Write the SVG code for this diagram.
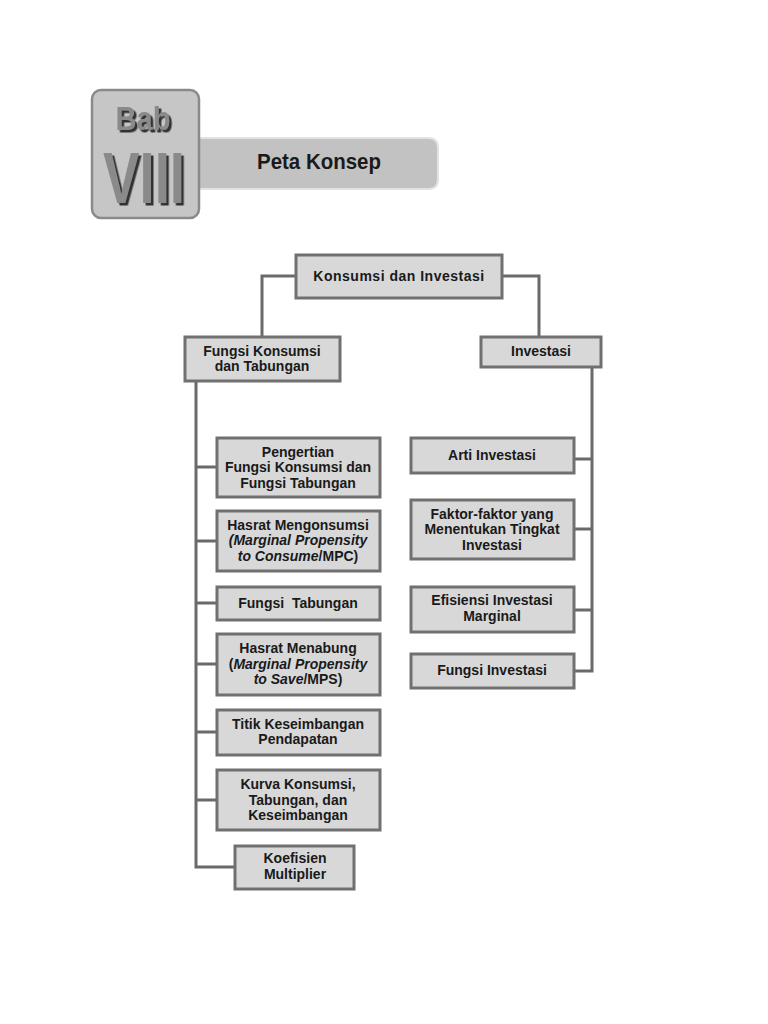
<svg xmlns="http://www.w3.org/2000/svg" width="768" height="1024" viewBox="0 0 768 1024">
<style>
.box{fill:#d8d8d8;stroke:#707070;stroke-width:3}
.t{font-family:"Liberation Sans",Arial,sans-serif;font-weight:bold;font-size:14px;fill:#1a1a1a;text-anchor:middle}
.c{fill:none;stroke:#6a6a6a;stroke-width:3}
.bab{font-family:"Liberation Sans",Arial,sans-serif;font-weight:bold;fill:#8a8a8a;text-anchor:middle}
</style>
<defs>
<filter id="sh" x="-20%" y="-20%" width="140%" height="140%"><feDropShadow dx="2.5" dy="2.5" stdDeviation="0" flood-color="#333333"/></filter>
</defs>
<rect width="768" height="1024" fill="#ffffff"/>
<g id="header">
<path d="M190,138 H428 Q438,138 438,148 V179 Q438,189 428,189 H190 Z" fill="#c2c2c2" stroke="#e2e2e2" stroke-width="2"/>
<rect x="92" y="90" width="107" height="128" rx="9" fill="#c6c6c6" stroke="#8a8a8a" stroke-width="2.5"/>
<text x="257" y="169" font-family="Liberation Sans,Arial,sans-serif" font-weight="bold" font-size="22" fill="#1a1a1a" textLength="124" lengthAdjust="spacingAndGlyphs">Peta Konsep</text>
<text class="bab" x="143" y="130" font-size="34" textLength="55" lengthAdjust="spacingAndGlyphs" filter="url(#sh)">Bab</text>
<text class="bab" x="144" y="203" font-size="72" textLength="82" lengthAdjust="spacingAndGlyphs" filter="url(#sh)">VIII</text>
</g>
<g id="connectors">
<path class="c" d="M296,276 H262 V337"/>
<path class="c" d="M502,276 H539 V337"/>
<path class="c" d="M196,381 V867 H235"/>
<path class="c" d="M196,467 H217 M196,541 H217 M196,603 H217 M196,664 H217 M196,732 H217 M196,800 H217"/>
<path class="c" d="M592,367 V671 H574"/>
<path class="c" d="M592,459 H574 M592,529 H574 M592,610 H574"/>
</g>
<g id="n-root"><rect class="box" x="296" y="255" width="206" height="43"/><text class="t" x="399" y="281" font-size="15" letter-spacing="0.5">Konsumsi dan Investasi</text></g>
<g id="n-fkt"><rect class="box" x="185" y="337" width="155" height="44"/><text class="t" x="262" y="356">Fungsi Konsumsi</text><text class="t" x="262" y="371">dan Tabungan</text></g>
<g id="n-inv"><rect class="box" x="481" y="337" width="120" height="30"/><text class="t" x="541" y="356">Investasi</text></g>
<g id="n-pengertian"><rect class="box" x="217" y="438" width="163" height="59"/><text class="t" x="298" y="457">Pengertian</text><text class="t" x="298" y="472">Fungsi Konsumsi dan</text><text class="t" x="298" y="488">Fungsi Tabungan</text></g>
<g id="n-mpc"><rect class="box" x="217" y="511" width="163" height="60"/><text class="t" x="298" y="530">Hasrat Mengonsumsi</text><text class="t" x="298" y="545"><tspan font-style="italic">(Marginal Propensity</tspan></text><text class="t" x="298" y="561"><tspan font-style="italic">to Consume</tspan>/MPC)</text></g>
<g id="n-ftab"><rect class="box" x="217" y="587" width="163" height="33"/><text class="t" x="298" y="608" xml:space="preserve">Fungsi  Tabungan</text></g>
<g id="n-mps"><rect class="box" x="217" y="634" width="163" height="61"/><text class="t" x="298" y="653">Hasrat Menabung</text><text class="t" x="298" y="669">(<tspan font-style="italic">Marginal Propensity</tspan></text><text class="t" x="298" y="684"><tspan font-style="italic">to Save</tspan>/MPS)</text></g>
<g id="n-titik"><rect class="box" x="217" y="710" width="163" height="45"/><text class="t" x="298" y="729">Titik Keseimbangan</text><text class="t" x="298" y="744">Pendapatan</text></g>
<g id="n-kurva"><rect class="box" x="217" y="770" width="163" height="60"/><text class="t" x="298" y="789">Kurva Konsumsi,</text><text class="t" x="298" y="805">Tabungan, dan</text><text class="t" x="298" y="820">Keseimbangan</text></g>
<g id="n-koef"><rect class="box" x="235" y="846" width="119" height="43"/><text class="t" x="295" y="863">Koefisien</text><text class="t" x="295" y="879">Multiplier</text></g>
<g id="n-arti"><rect class="box" x="411" y="438" width="163" height="35"/><text class="t" x="492" y="460">Arti Investasi</text></g>
<g id="n-faktor"><rect class="box" x="411" y="500" width="163" height="59"/><text class="t" x="492" y="519">Faktor-faktor yang</text><text class="t" x="492" y="534">Menentukan Tingkat</text><text class="t" x="492" y="550">Investasi</text></g>
<g id="n-efisiensi"><rect class="box" x="411" y="587" width="163" height="45"/><text class="t" x="492" y="605">Efisiensi Investasi</text><text class="t" x="492" y="621">Marginal</text></g>
<g id="n-finv"><rect class="box" x="411" y="654" width="163" height="34"/><text class="t" x="492" y="675">Fungsi Investasi</text></g>
</svg>
